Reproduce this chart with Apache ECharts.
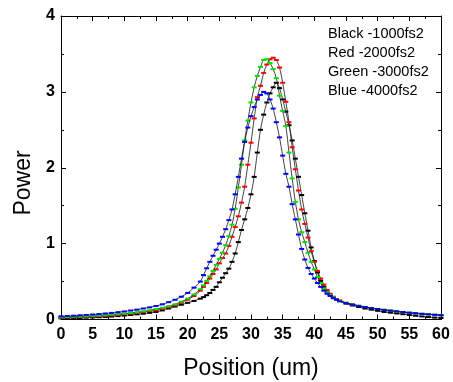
<!DOCTYPE html>
<html><head><meta charset="utf-8">
<script src="https://cdn.jsdelivr.net/npm/echarts@6/dist/echarts.min.js"></script>
<style>html,body{margin:0;padding:0;background:#fff}#c{width:453px;height:382px}</style>
</head><body><div id="c"></div>
<script>
// Position (um)
const xs = [0,1,2,3,4,5,6,7,8,9,10,11,12,13,14,15,16,17,18,19,20,21,
  22,22.5,23,23.5,24,24.5,25,25.5,26,26.5,27,27.5,28,28.5,29,29.5,30,30.5,31,31.5,
  32,32.5,33,33.5,34,34.5,35,35.5,36,36.5,37,37.5,38,38.5,39,39.5,40,40.5,41,41.5,
  42,42.5,43,43.5,44,
  45,46,47,48,49,50,51,52,53,54,55,56,57,58,59,60];

const black1000 = [0.015,0.017,0.019,0.021,0.024,0.027,0.030,0.034,0.039,0.045,0.052,0.060,0.068,0.077,0.088,0.100,0.120,0.145,0.170,0.195,0.220,0.245,
  0.275,0.295,0.320,0.350,0.390,0.430,0.490,0.550,0.610,0.670,
  0.760,0.870,1.020,1.180,1.320,1.470,1.650,1.880,2.200,2.500,
  2.700,2.860,2.980,3.060,3.120,3.050,2.900,2.740,2.560,2.360,
  2.120,1.880,1.640,1.400,1.170,0.950,0.770,0.620,0.510,0.430,
  0.370,0.320,0.290,0.265,0.245,
  0.210,0.185,0.165,0.145,0.130,0.115,0.100,0.090,0.080,0.070,0.060,0.050,0.040,0.032,0.025,0.020];

const red2000 = [0.025,0.027,0.030,0.033,0.036,0.040,0.044,0.049,0.055,0.062,0.070,0.078,0.088,0.098,0.110,0.120,0.140,0.160,0.185,0.220,0.260,0.310,
  0.380,0.430,0.480,0.540,0.600,0.660,0.740,0.810,0.870,0.970,
  1.090,1.220,1.360,1.540,1.750,2.040,2.330,2.650,2.930,3.080,
  3.250,3.360,3.430,3.450,3.420,3.320,3.120,2.870,2.600,2.270,
  1.980,1.700,1.450,1.260,1.080,0.900,0.760,0.640,0.540,0.460,
  0.390,0.340,0.300,0.270,0.250,
  0.220,0.200,0.180,0.165,0.150,0.138,0.126,0.115,0.105,0.095,0.087,0.080,0.073,0.067,0.061,0.056];

const green3000 = [0.030,0.033,0.036,0.039,0.043,0.047,0.052,0.057,0.063,0.070,0.078,0.086,0.095,0.108,0.122,0.138,0.155,0.175,0.200,0.235,0.275,0.330,
  0.400,0.450,0.510,0.570,0.640,0.720,0.800,0.880,0.980,1.100,
  1.250,1.460,1.740,2.040,2.360,2.620,2.860,3.060,3.210,3.330,
  3.420,3.430,3.380,3.300,3.180,2.950,2.750,2.550,2.200,1.860,
  1.550,1.320,1.150,1.020,0.880,0.760,0.660,0.560,0.480,0.410,
  0.360,0.320,0.290,0.260,0.240,
  0.220,0.200,0.182,0.166,0.152,0.140,0.128,0.117,0.107,0.098,0.090,0.083,0.076,0.070,0.064,0.058];

const blue4000 = [0.042,0.046,0.050,0.055,0.060,0.066,0.072,0.079,0.087,0.096,0.106,0.118,0.130,0.145,0.160,0.178,0.200,0.228,0.260,0.300,0.350,0.420,
  0.500,0.585,0.675,0.760,0.840,0.920,1.000,1.090,1.190,1.310,
  1.450,1.650,1.880,2.120,2.340,2.530,2.680,2.800,2.900,2.960,
  3.000,2.980,2.900,2.780,2.600,2.400,2.160,1.920,1.750,1.520,
  1.320,1.120,0.930,0.790,0.680,0.600,0.540,0.480,0.430,0.380,
  0.340,0.310,0.280,0.260,0.240,
  0.215,0.195,0.178,0.163,0.150,0.138,0.127,0.117,0.107,0.098,0.090,0.082,0.075,0.068,0.062,0.056];

const seriesNames = ['Black -1000fs2','Red -2000fs2','Green -3000fs2','Blue -4000fs2'];
const seriesColors = ['#000000','#ff0000','#00e000','#0000ff'];
const seriesValues = [black1000, red2000, green3000, blue4000];

const xTicks = {min:0, max:60, interval:5};
const yTicks = {min:0, max:4, interval:1};

const chart = echarts.init(document.getElementById('c'), null, {renderer:'canvas'});
const FONT = 'Liberation Sans, Arial, Helvetica, sans-serif';
const tickLabel = {fontFamily:FONT, fontWeight:'bold', fontSize:16, color:'#000'};

function axis(base, pos, showLabel, margin){
  return Object.assign({
    type:'value', position:pos,
    axisLine:{show:true, onZero:false, lineStyle:{color:'#000', width:1}},
    axisTick:{show:true, inside:true, length:5, lineStyle:{color:'#000', width:1}},
    minorTick:{show:true, splitNumber:2, length:3, lineStyle:{color:'#000', width:1}},
    splitLine:{show:false}, minorSplitLine:{show:false},
    axisLabel:Object.assign({show:showLabel, margin:margin}, tickLabel)
  }, base);
}

const series = seriesValues.map((ys, k) => ({
  name: seriesNames[k], type:'line',
  data: xs.map((x, i) => [x, ys[i]]),
  smooth: 0.3, showAllSymbol: true,
  symbol:'rect', symbolSize:[5,2],
  itemStyle:{color: seriesColors[k]},
  lineStyle:{color:'#111', width:0.8},
  emphasis:{disabled:true},
  z: 2 + k
}));

chart.setOption({
  animation:false,
  backgroundColor:'#fff',
  grid:{left:61, right:12, top:16, bottom:62.5},
  xAxis:[axis(xTicks,'bottom',true,7), axis(xTicks,'top',false,7)],
  yAxis:[axis(yTicks,'left',true,6), axis(yTicks,'right',false,6)],
  legend:{
    orient:'vertical', left:318, top:21, icon:'none', itemWidth:0, itemHeight:14, itemGap:4,
    selectedMode:false, data:seriesNames,
    textStyle:{fontFamily:FONT, fontSize:14.5, color:'#000'}
  },
  graphic:[
    {type:'text', x:24, y:183, rotation:Math.PI/2,
      style:{text:'Power', fontFamily:FONT, fontSize:23, fill:'#000', align:'center', verticalAlign:'middle'}},
    {type:'text', x:251, y:369,
      style:{text:'Position (um)', fontFamily:FONT, fontSize:23, fill:'#000', align:'center', verticalAlign:'middle'}}
  ],
  series: series
});
</script></body></html>
